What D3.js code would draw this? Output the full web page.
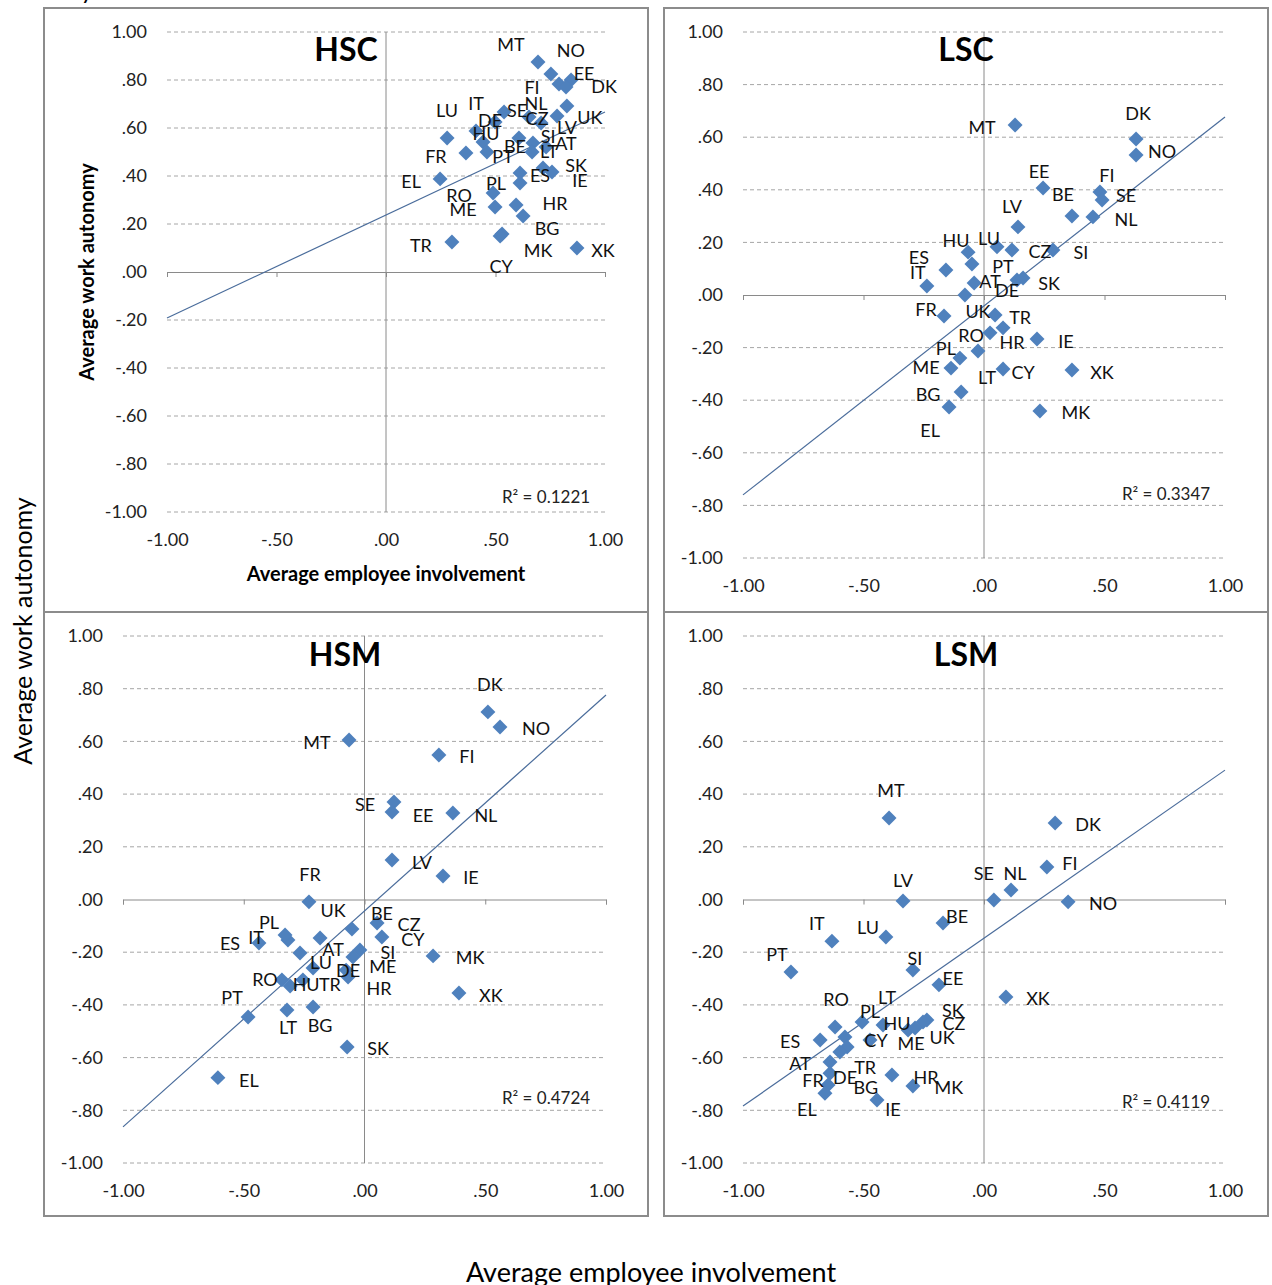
<!DOCTYPE html>
<html>
<head>
<meta charset="utf-8">
<script src="https://cdn.jsdelivr.net/npm/d3@7"></script>
<style>
  body { margin: 0; background: #fff; }
  svg { display: block; font-family: Lato, 'Open Sans', sans-serif; }
</style>
</head>
<body>
<svg width="1272" height="1285"></svg>
<script>
// ---- axis ticks (shared by all four panels)
const xTicks = [-1, -0.5, 0, 0.5, 1];
const yTicks = [-1, -0.8, -0.6, -0.4, -0.2, 0, 0.2, 0.4, 0.6, 0.8, 1];

// ---- HSC
const hscCodes = ['MT','NO','FI','EE','DK','UK','LV','NL','CZ','SE','DE','IT','LU','HU','AT','SI','BE','LT','PT','FR','SK','IE','EL','ES','PL','RO','ME','HR','BG','TR','MK','CY','XK'];
const hscInvolvement = [0.694,0.753,0.790,0.845,0.822,0.826,0.781,0.653,0.708,0.539,0.498,0.411,0.279,0.443,0.671,0.731,0.607,0.667,0.461,0.365,0.717,0.758,0.247,0.612,0.612,0.489,0.498,0.594,0.626,0.301,0.530,0.521,0.872];
const hscAutonomy = [0.875,0.825,0.783,0.800,0.771,0.692,0.650,0.646,0.621,0.667,0.625,0.588,0.558,0.542,0.538,0.521,0.558,0.500,0.500,0.496,0.433,0.417,0.388,0.413,0.371,0.329,0.271,0.279,0.233,0.125,0.158,0.150,0.100];
const hscTrend = [-0.192, 0.667];   // fitted value at x = -1 and x = 1
const hscR2 = 'R² = 0.1221';

// ---- LSC
const lscCodes = ['MT','DK','NO','EE','FI','SE','BE','NL','LV','HU','LU','CZ','SI','ES','IT','PT','AT','DE','SK','UK','FR','TR','HR','RO','LT','PL','ME','IE','CY','XK','BG','EL','MK'];
const lscInvolvement = [0.129,0.631,0.631,0.245,0.481,0.490,0.365,0.452,0.141,-0.066,0.054,0.116,0.286,-0.158,-0.237,-0.050,-0.041,0.137,0.162,-0.079,-0.166,0.046,0.079,0.025,-0.025,-0.100,-0.137,0.220,0.079,0.365,-0.095,-0.145,0.232];
const lscAutonomy = [0.646,0.593,0.532,0.407,0.392,0.361,0.300,0.297,0.259,0.163,0.183,0.171,0.171,0.095,0.034,0.118,0.046,0.057,0.065,0.000,-0.080,-0.076,-0.125,-0.144,-0.213,-0.240,-0.278,-0.167,-0.281,-0.285,-0.369,-0.426,-0.441];
const lscTrend = [-0.760, 0.677];
const lscR2 = 'R² = 0.3347';

// ---- HSM
const hsmCodes = ['DK','NO','MT','FI','SE','EE','NL','LV','IE','FR','UK','BE','CZ','CY','PL','ES','IT','AT','SI','ME','LU','DE','HR','RO','HU','TR','MK','XK','PT','LT','BG','SK','EL'];
const hsmInvolvement = [0.511,0.561,-0.064,0.308,0.122,0.114,0.366,0.114,0.325,-0.230,-0.184,-0.052,0.052,0.072,-0.317,-0.329,-0.437,-0.267,-0.019,-0.048,-0.213,-0.076,-0.068,-0.342,-0.308,-0.255,0.284,0.391,-0.482,-0.321,-0.213,-0.072,-0.607];
const hsmAutonomy = [0.712,0.655,0.605,0.548,0.370,0.332,0.328,0.150,0.089,-0.009,-0.146,-0.112,-0.089,-0.142,-0.154,-0.135,-0.165,-0.203,-0.192,-0.218,-0.260,-0.268,-0.294,-0.305,-0.328,-0.305,-0.214,-0.355,-0.446,-0.419,-0.408,-0.560,-0.676];
const hsmTrend = [-0.863, 0.776];
const hsmR2 = 'R² = 0.4724';

// ---- LSM
const lsmCodes = ['MT','DK','FI','SE','NL','NO','LV','BE','LU','SI','EE','XK','IT','PT','RO','ES','PL','LT','CY','HU','ME','SK','CZ','UK','AT','DE','FR','EL','TR','BG','HR','MK','IE'];
const lsmInvolvement = [-0.394,0.295,0.261,0.041,0.112,0.349,-0.336,-0.170,-0.407,-0.295,-0.187,0.091,-0.631,-0.801,-0.618,-0.680,-0.506,-0.419,-0.473,-0.577,-0.315,-0.237,-0.253,-0.286,-0.639,-0.639,-0.647,-0.660,-0.568,-0.598,-0.382,-0.295,-0.444];
const lsmAutonomy = [0.309,0.290,0.123,-0.002,0.036,-0.009,-0.006,-0.089,-0.142,-0.268,-0.324,-0.370,-0.158,-0.275,-0.484,-0.533,-0.465,-0.476,-0.533,-0.522,-0.495,-0.457,-0.465,-0.488,-0.617,-0.659,-0.704,-0.735,-0.560,-0.579,-0.666,-0.708,-0.761];
const lsmTrend = [-0.784, 0.491];
const lsmR2 = 'R² = 0.4119';

// ---- label placement (pixel shift of each country code from its marker)
const hscShift = {MT:[-27,-18],NO:[20,-24],FI:[-27,3],EE:[13,-7],DK:[38,-1],UK:[23,11],LV:[10,11],NL:[7,-14],CZ:[-4,-5],SE:[13,-2],DE:[-5,-2],IT:[0,-28],LU:[0,-28],HU:[3,-9],AT:[33,0],SI:[2,-11],BE:[-4,8],LT:[17,-1],PT:[16,4],FR:[-30,3],SK:[33,-3],IE:[28,8],EL:[-29,2],ES:[20,2],PL:[-24,0],RO:[-34,2],ME:[-32,2],HR:[39,-2],BG:[24,12],TR:[-31,3],MK:[36,16],CY:[1,30],XK:[26,2]};
const lscShift = {MT:[-33,2],DK:[2,-26],NO:[26,-4],EE:[-4,-17],FI:[7,-17],SE:[24,-5],BE:[-9,-22],NL:[33,2],LV:[-6,-21],HU:[-12,-12],LU:[-8,-9],CZ:[28,1],SI:[28,2],ES:[-27,-13],IT:[-9,-14],PT:[31,2],AT:[16,-2],DE:[-10,10],SK:[26,5],UK:[13,16],FR:[-18,-7],TR:[25,2],HR:[9,14],RO:[-19,2],LT:[9,26],PL:[-14,-10],ME:[-25,-1],IE:[29,2],CY:[20,3],XK:[30,2],BG:[-33,2],EL:[-19,23],MK:[36,1]};
const hsmShift = {DK:[2,-28],NO:[36,1],MT:[-32,2],FI:[28,1],SE:[-29,2],EE:[31,3],NL:[33,2],LV:[30,2],IE:[28,1],FR:[1,-28],UK:[13,-28],BE:[30,-16],CZ:[32,1],CY:[31,2],PL:[-19,-18],ES:[-55,8],IT:[-3,-6],AT:[33,-4],SI:[28,2],ME:[30,9],LU:[8,-6],DE:[2,0],HR:[31,11],RO:[-17,-1],HU:[16,-2],TR:[27,4],MK:[37,1],XK:[32,2],PT:[-16,-20],LT:[1,17],BG:[7,18],SK:[31,1],EL:[31,2]};
const lsmShift = {MT:[2,-28],DK:[33,1],FI:[23,-4],SE:[-10,-27],NL:[4,-17],NO:[35,1],LV:[0,-21],BE:[14,-7],LU:[-18,-10],SI:[2,-12],EE:[14,-7],XK:[32,1],IT:[-15,-18],PT:[-14,-18],RO:[1,-28],ES:[-30,1],PL:[8,-11],LT:[4,-28],CY:[6,0],HU:[52,-14],ME:[3,13],SK:[26,-10],CZ:[31,1],UK:[27,9],AT:[-30,1],DE:[15,4],FR:[-15,-5],EL:[-18,16],TR:[18,20],BG:[26,35],HR:[34,2],MK:[36,1],IE:[16,9]};

const panels = [
    { title: 'HSC', codes: hscCodes, xs: hscInvolvement, ys: hscAutonomy, trend: hscTrend, r2: hscR2, shift: hscShift,
      box: [44, 8, 648, 612], plot: { left: 167, right: 605, top: 32, bottom: 512 }, titleAt: [346, 61], r2At: [546, 496], inner: true },
    { title: 'LSC', codes: lscCodes, xs: lscInvolvement, ys: lscAutonomy, trend: lscTrend, r2: lscR2, shift: lscShift,
      box: [664, 8, 1268, 612], plot: { left: 743, right: 1225, top: 32, bottom: 558 }, titleAt: [966, 61], r2At: [1166, 493] },
    { title: 'HSM', codes: hsmCodes, xs: hsmInvolvement, ys: hsmAutonomy, trend: hsmTrend, r2: hsmR2, shift: hsmShift,
      box: [44, 612, 648, 1216], plot: { left: 123, right: 606, top: 636, bottom: 1163 }, titleAt: [345, 666], r2At: [546, 1097] },
    { title: 'LSM', codes: lsmCodes, xs: lsmInvolvement, ys: lsmAutonomy, trend: lsmTrend, r2: lsmR2, shift: lsmShift,
      box: [664, 612, 1268, 1216], plot: { left: 743, right: 1225, top: 636, bottom: 1163 }, titleAt: [966, 666], r2At: [1166, 1101] }
];

// Excel style ".00" number format, plain hyphen for negatives
const fmt = v => (+v).toFixed(2).replace(/^(-?)0\./, '$1.');

const svg = d3.select('svg');
const gridColor = '#a6a6a6';
const axisColor = '#8a8a8a';
const markColor = '#4f81bd';

// fragment of a caption cut off at the top edge
svg.append('text')
    .attr('x', 87).attr('y', -1)
    .attr('text-anchor', 'middle').attr('font-size', 24)
    .text('y');

panels.forEach(p => {
    const g = svg.append('g');
    const x = d3.scaleLinear().domain([-1, 1]).range([p.plot.left, p.plot.right]);
    const y = d3.scaleLinear().domain([-1, 1]).range([p.plot.bottom, p.plot.top]);

    // ---- frame
    g.append('rect')
        .attr('x', p.box[0]).attr('y', p.box[1])
        .attr('width', p.box[2] - p.box[0]).attr('height', p.box[3] - p.box[1])
        .attr('fill', 'none').attr('stroke', '#8c8c8c').attr('stroke-width', 2);

    // ---- dashed grid
    g.selectAll('line.grid').data(yTicks.filter(t => t !== 0)).join('line')
        .attr('class', 'grid')
        .attr('x1', x(-1)).attr('x2', x(1))
        .attr('y1', d => y(d)).attr('y2', d => y(d))
        .attr('stroke', gridColor).attr('stroke-width', 1).attr('stroke-dasharray', '4,3');

    // ---- zero axes
    const zeroAxis = g.append('g')
        .attr('transform', `translate(0, ${y(0)})`)
        .call(d3.axisBottom(x).tickValues(xTicks).tickSize(5).tickFormat(''));
    zeroAxis.selectAll('path, line').attr('stroke', axisColor);

    g.append('line')
        .attr('x1', x(0)).attr('x2', x(0))
        .attr('y1', y(1)).attr('y2', y(-1))
        .attr('stroke', axisColor).attr('stroke-width', 1);

    // ---- tick labels
    const yAxis = g.append('g')
        .attr('transform', `translate(${x(-1)}, 0)`)
        .call(d3.axisLeft(y).tickValues(yTicks).tickSize(0).tickPadding(20).tickFormat(fmt));
    yAxis.select('.domain').remove();
    yAxis.selectAll('text').attr('font-size', 18).attr('fill', '#222').style('font-family', 'Lato, sans-serif');

    const xAxis = g.append('g')
        .attr('transform', `translate(0, ${y(-1)})`)
        .call(d3.axisBottom(x).tickValues(xTicks).tickSize(0).tickFormat(fmt));
    xAxis.select('.domain').remove();
    xAxis.selectAll('text').attr('y', 28).attr('dy', '0.35em')
        .attr('font-size', 18).attr('fill', '#222').style('font-family', 'Lato, sans-serif');

    // ---- trend line
    const line = d3.line().x(d => x(d[0])).y(d => y(d[1]));
    g.append('path')
        .attr('d', line([[-1, p.trend[0]], [1, p.trend[1]]]))
        .attr('fill', 'none').attr('stroke', '#4a6c9b').attr('stroke-width', 1.2);

    // ---- points
    const pts = p.codes.map((c, i) => ({ code: c, vx: p.xs[i], vy: p.ys[i] }));
    const diamond = d3.symbol(d3.symbolSquare, 112);
    g.selectAll('path.pt').data(pts).join('path')
        .attr('class', 'pt')
        .attr('d', diamond)
        .attr('transform', d => `translate(${x(d.vx)}, ${y(d.vy)}) rotate(45)`)
        .attr('fill', markColor);

    g.selectAll('text.code').data(pts).join('text')
        .attr('class', 'code')
        .attr('x', d => x(d.vx) + p.shift[d.code][0])
        .attr('y', d => y(d.vy) + p.shift[d.code][1])
        .attr('text-anchor', 'middle').attr('dominant-baseline', 'central')
        .attr('font-size', 18).attr('fill', '#111')
        .text(d => d.code);

    // ---- titles
    g.append('text')
        .attr('x', p.titleAt[0]).attr('y', p.titleAt[1])
        .attr('text-anchor', 'middle').attr('font-size', 32).attr('font-weight', 'bold')
        .text(p.title);

    g.append('text')
        .attr('x', p.r2At[0]).attr('y', p.r2At[1])
        .attr('text-anchor', 'middle').attr('dominant-baseline', 'central')
        .attr('font-size', 17).attr('fill', '#222')
        .text(p.r2);

    if (p.inner) {
        g.append('text')
            .attr('x', x(0)).attr('y', 573)
            .attr('text-anchor', 'middle').attr('dominant-baseline', 'central')
            .attr('font-size', 20).attr('font-weight', 'bold')
            .text('Average employee involvement');
        g.append('text')
            .attr('transform', `translate(86, ${y(0)}) rotate(-90)`)
            .attr('text-anchor', 'middle').attr('dominant-baseline', 'central')
            .attr('font-size', 20).attr('font-weight', 'bold')
            .text('Average work autonomy');
    }
});

// ---- overall axis titles
svg.append('text')
    .attr('transform', 'translate(22, 631) rotate(-90)')
    .attr('text-anchor', 'middle').attr('dominant-baseline', 'central')
    .attr('font-size', 25)
    .text('Average work autonomy');

svg.append('text')
    .attr('x', 651).attr('y', 1271)
    .attr('text-anchor', 'middle').attr('dominant-baseline', 'central')
    .attr('font-size', 27)
    .text('Average employee involvement');
</script>
</body>
</html>
